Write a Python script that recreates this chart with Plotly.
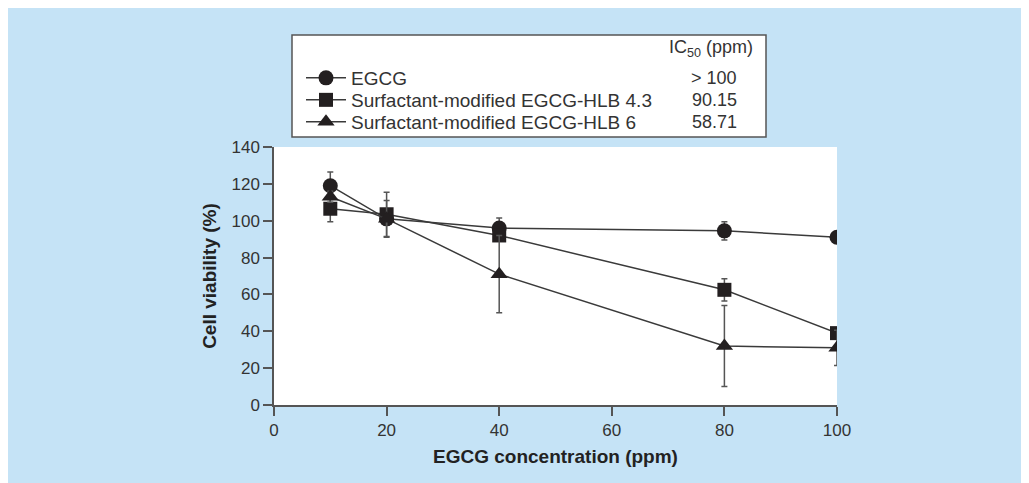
import plotly.graph_objects as go

conc = [10, 20, 40, 80, 100]
series_names = ["EGCG", "Surfactant-modified EGCG-HLB 4.3", "Surfactant-modified EGCG-HLB 6"]
ic50_labels = ["> 100", "90.15", "58.71"]
egcg = [119, 101, 96, 94.5, 91]
egcg_err = [7.5, 3, 5.5, 5, 1.5]
hlb43 = [106.5, 103.5, 92, 62.5, 39]
hlb43_err = [7, 12, 3, 6, 2]
hlb6 = [113, 101, 71, 32, 31]
hlb6_err = [3, 10, 21, 22, 9.5]

BLUE = "#c5e3f6"
INK = "#231f20"
LINE = "#3a3a3a"
TXT = "#333333"
FONT = "Liberation Sans, Arial, sans-serif"

W, H = 1029, 483
OFF = 8  # page body margin
L, R, T, B = 266, 200, 139, 86
pw, ph = W - L - R, H - T - B


def px(sx):
    return (sx - OFF - L) / pw


def py(sy):
    return (H - B - (sy - OFF)) / ph


fig = go.Figure()
symbols = ["circle", "square", "triangle-up"]
sizes = [15, 14, 15]
legend_ids = ["legend", "legend2", "legend3"]
for name, ys, es, sym, sz, lg in zip(series_names, [egcg, hlb43, hlb6], [egcg_err, hlb43_err, hlb6_err],
                                     symbols, sizes, legend_ids):
    fig.add_trace(go.Scatter(
        x=conc, y=ys, name=name, mode="lines+markers",
        line=dict(color=LINE, width=1.5),
        marker=dict(symbol=sym, size=sz, color=INK, line=dict(width=0)),
        error_y=dict(type="data", array=es, visible=True, color="#555555", thickness=1.5, width=3),
        legend=lg,
    ))

shapes = [
    dict(type="rect", xref="paper", yref="paper", x0=px(292), x1=px(766), y0=py(137), y1=py(35),
         fillcolor="white", line=dict(color="#555555", width=1.5), layer="below"),
]

annotations = [
    dict(xref="paper", yref="paper", x=px(667), y=py(48), xanchor="left", yanchor="middle",
         text="IC<sub>50</sub> (ppm)", showarrow=False, font=dict(family=FONT, size=18, color=TXT)),
]
row_y = [78, 100, 122]
for lab, ry in zip(ic50_labels, row_y):
    annotations.append(dict(xref="paper", yref="paper", x=px(739), y=py(ry), xanchor="right",
                            yanchor="middle", text=lab, showarrow=False,
                            font=dict(family=FONT, size=18, color=TXT)))

leg_common = dict(xanchor="left", yanchor="middle", bgcolor="rgba(0,0,0,0)", borderwidth=0,
                  font=dict(family=FONT, size=19, color=TXT), itemwidth=40)

fig.update_layout(
    width=W, height=H,
    margin=dict(l=L, r=R, t=T, b=B),
    paper_bgcolor=BLUE, plot_bgcolor="white",
    font=dict(family=FONT, size=17, color=TXT),
    shapes=shapes, annotations=annotations,
    showlegend=True,
    legend=dict(x=px(301), y=py(row_y[0]), **leg_common),
    legend2=dict(x=px(301), y=py(row_y[1]), **leg_common),
    legend3=dict(x=px(301), y=py(row_y[2]), **leg_common),
    xaxis=dict(range=[0, 100], tickvals=[0, 20, 40, 60, 80, 100], showgrid=False, zeroline=False,
               showline=True, linecolor="#555555", linewidth=1.5, ticks="outside", ticklen=9,
               tickcolor="#555555", tickwidth=1.5, tickfont=dict(size=17, color=TXT),
               title=dict(text="<b>EGCG concentration (ppm)</b>", font=dict(size=19, color="#222222"),
                          standoff=11)),
    yaxis=dict(range=[0, 140], tickvals=list(range(0, 141, 20)), showgrid=False, zeroline=False,
               showline=True, linecolor="#555555", linewidth=1.5, ticks="outside", ticklen=9,
               tickcolor="#555555", tickwidth=1.5, tickfont=dict(size=17, color=TXT),
               title=dict(text="<b>Cell viability (%)</b>", font=dict(size=19, color="#222222"),
                          standoff=10)),
)

fig.write_html("out.html")
